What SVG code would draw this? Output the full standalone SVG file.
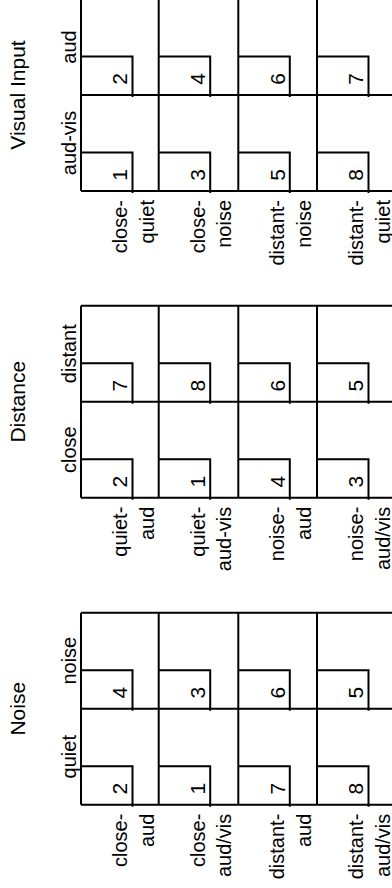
<svg xmlns="http://www.w3.org/2000/svg" width="392" height="888" viewBox="0 0 392 888">
<style>
.g{fill:none;stroke:#000;stroke-width:2}
text{font-family:"Liberation Sans",Arial,sans-serif;fill:#000}
.t{font-size:21px;text-anchor:middle}
.c{font-size:20px;text-anchor:middle}
.n{font-size:21px;text-anchor:middle}
.r{font-size:20px;text-anchor:end}
</style>
<rect width="392" height="888" fill="#fff"/>

<!-- Panel 1: Visual Input (top -1) -->
<g id="panel-visual-input">
  <text class="t" transform="translate(25,95) rotate(-90)">Visual Input</text>
  <text class="c" transform="translate(76,47) rotate(-90)">aud</text>
  <text class="c" transform="translate(76,143) rotate(-90)">aud-vis</text>
  <path class="g" d="M81,-1H400M81,95H400M81,191H400M81,-1V191M158.7,-1V191M238.3,-1V191M317,-1V191"/>
  <g id="vi-c1u"><path class="g" d="M81,56.5H132.5V97"/><text class="n" transform="translate(127.3,79) rotate(-90)">2</text></g>
  <g id="vi-c2u"><path class="g" d="M158.7,56.5H210.2V97"/><text class="n" transform="translate(205,79) rotate(-90)">4</text></g>
  <g id="vi-c3u"><path class="g" d="M238.3,56.5H289.8V97"/><text class="n" transform="translate(284.6,79) rotate(-90)">6</text></g>
  <g id="vi-c4u"><path class="g" d="M317,56.5H368.5V97"/><text class="n" transform="translate(363.3,79) rotate(-90)">7</text></g>
  <g id="vi-c1l"><path class="g" d="M81,152.5H132.5V193"/><text class="n" transform="translate(127.3,175) rotate(-90)">1</text></g>
  <g id="vi-c2l"><path class="g" d="M158.7,152.5H210.2V193"/><text class="n" transform="translate(205,175) rotate(-90)">3</text></g>
  <g id="vi-c3l"><path class="g" d="M238.3,152.5H289.8V193"/><text class="n" transform="translate(284.6,175) rotate(-90)">5</text></g>
  <g id="vi-c4l"><path class="g" d="M317,152.5H368.5V193"/><text class="n" transform="translate(363.3,175) rotate(-90)">8</text></g>
  <text class="r" transform="translate(127,200) rotate(-90)">close-</text>
  <text class="r" transform="translate(153.5,200) rotate(-90)">quiet</text>
  <text class="r" transform="translate(204.7,200) rotate(-90)">close-</text>
  <text class="r" transform="translate(231.2,200) rotate(-90)">noise</text>
  <text class="r" transform="translate(284.3,200) rotate(-90)">distant-</text>
  <text class="r" transform="translate(310.8,200) rotate(-90)">noise</text>
  <text class="r" transform="translate(363,200) rotate(-90)">distant-</text>
  <text class="r" transform="translate(389.5,200) rotate(-90)">quiet</text>
</g>

<!-- Panel 2: Distance (top 305.7) -->
<g id="panel-distance">
  <text class="t" transform="translate(25,401.7) rotate(-90)">Distance</text>
  <text class="c" transform="translate(76,353.7) rotate(-90)">distant</text>
  <text class="c" transform="translate(76,449.7) rotate(-90)">close</text>
  <path class="g" d="M81,305.7H400M81,401.7H400M81,497.7H400M81,305.7V497.7M158.7,305.7V497.7M238.3,305.7V497.7M317,305.7V497.7"/>
  <g id="di-c1u"><path class="g" d="M81,363.2H132.5V403.7"/><text class="n" transform="translate(127.3,385.7) rotate(-90)">7</text></g>
  <g id="di-c2u"><path class="g" d="M158.7,363.2H210.2V403.7"/><text class="n" transform="translate(205,385.7) rotate(-90)">8</text></g>
  <g id="di-c3u"><path class="g" d="M238.3,363.2H289.8V403.7"/><text class="n" transform="translate(284.6,385.7) rotate(-90)">6</text></g>
  <g id="di-c4u"><path class="g" d="M317,363.2H368.5V403.7"/><text class="n" transform="translate(363.3,385.7) rotate(-90)">5</text></g>
  <g id="di-c1l"><path class="g" d="M81,459.2H132.5V499.7"/><text class="n" transform="translate(127.3,481.7) rotate(-90)">2</text></g>
  <g id="di-c2l"><path class="g" d="M158.7,459.2H210.2V499.7"/><text class="n" transform="translate(205,481.7) rotate(-90)">1</text></g>
  <g id="di-c3l"><path class="g" d="M238.3,459.2H289.8V499.7"/><text class="n" transform="translate(284.6,481.7) rotate(-90)">4</text></g>
  <g id="di-c4l"><path class="g" d="M317,459.2H368.5V499.7"/><text class="n" transform="translate(363.3,481.7) rotate(-90)">3</text></g>
  <text class="r" transform="translate(127,506.7) rotate(-90)">quiet-</text>
  <text class="r" transform="translate(153.5,506.7) rotate(-90)">aud</text>
  <text class="r" transform="translate(204.7,506.7) rotate(-90)">quiet-</text>
  <text class="r" transform="translate(231.2,506.7) rotate(-90)">aud-vis</text>
  <text class="r" transform="translate(284.3,506.7) rotate(-90)">noise-</text>
  <text class="r" transform="translate(310.8,506.7) rotate(-90)">aud</text>
  <text class="r" transform="translate(363,506.7) rotate(-90)">noise-</text>
  <text class="r" transform="translate(389.5,506.7) rotate(-90)">aud/vis</text>
</g>

<!-- Panel 3: Noise (top 612.7) -->
<g id="panel-noise">
  <text class="t" transform="translate(25,708.7) rotate(-90)">Noise</text>
  <text class="c" transform="translate(76,660.7) rotate(-90)">noise</text>
  <text class="c" transform="translate(76,756.7) rotate(-90)">quiet</text>
  <path class="g" d="M81,612.7H400M81,708.7H400M81,804.7H400M81,612.7V804.7M158.7,612.7V804.7M238.3,612.7V804.7M317,612.7V804.7"/>
  <g id="no-c1u"><path class="g" d="M81,670.2H132.5V710.7"/><text class="n" transform="translate(127.3,692.7) rotate(-90)">4</text></g>
  <g id="no-c2u"><path class="g" d="M158.7,670.2H210.2V710.7"/><text class="n" transform="translate(205,692.7) rotate(-90)">3</text></g>
  <g id="no-c3u"><path class="g" d="M238.3,670.2H289.8V710.7"/><text class="n" transform="translate(284.6,692.7) rotate(-90)">6</text></g>
  <g id="no-c4u"><path class="g" d="M317,670.2H368.5V710.7"/><text class="n" transform="translate(363.3,692.7) rotate(-90)">5</text></g>
  <g id="no-c1l"><path class="g" d="M81,766.2H132.5V806.7"/><text class="n" transform="translate(127.3,788.7) rotate(-90)">2</text></g>
  <g id="no-c2l"><path class="g" d="M158.7,766.2H210.2V806.7"/><text class="n" transform="translate(205,788.7) rotate(-90)">1</text></g>
  <g id="no-c3l"><path class="g" d="M238.3,766.2H289.8V806.7"/><text class="n" transform="translate(284.6,788.7) rotate(-90)">7</text></g>
  <g id="no-c4l"><path class="g" d="M317,766.2H368.5V806.7"/><text class="n" transform="translate(363.3,788.7) rotate(-90)">8</text></g>
  <text class="r" transform="translate(127,813.7) rotate(-90)">close-</text>
  <text class="r" transform="translate(153.5,813.7) rotate(-90)">aud</text>
  <text class="r" transform="translate(204.7,813.7) rotate(-90)">close-</text>
  <text class="r" transform="translate(231.2,813.7) rotate(-90)">aud/vis</text>
  <text class="r" transform="translate(284.3,813.7) rotate(-90)">distant-</text>
  <text class="r" transform="translate(310.8,813.7) rotate(-90)">aud</text>
  <text class="r" transform="translate(363,813.7) rotate(-90)">distant-</text>
  <text class="r" transform="translate(389.5,813.7) rotate(-90)">aud/vis</text>
</g>
<g id="connectors"/>
</svg>
